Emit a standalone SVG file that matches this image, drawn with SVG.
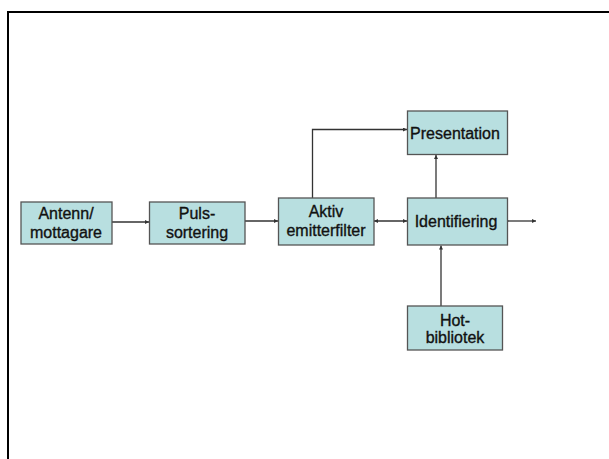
<svg xmlns="http://www.w3.org/2000/svg" width="609" height="459" viewBox="0 0 609 459">
<style>
.box{fill:#b8dfe0;stroke:#555;stroke-width:1.3}
.lbl{font-family:"Liberation Sans",Arial,sans-serif;font-size:16px;fill:#111;stroke:#111;stroke-width:0.35;text-anchor:middle}
.con{fill:none;stroke:#333;stroke-width:1.3}
</style>
<defs>
<marker id="ah" viewBox="0 0 6 6" refX="6" refY="3" markerWidth="4" markerHeight="4" orient="auto-start-reverse" markerUnits="userSpaceOnUse"><path d="M0,0 L6,3 L0,6 z" fill="#333"/></marker>
</defs>
<rect x="0" y="0" width="609" height="459" fill="#fff"/>
<path d="M8,459 V12 H609" fill="none" stroke="#000" stroke-width="2"/>
<g id="connectors">
<line class="con" x1="112" y1="222" x2="149" y2="222" marker-end="url(#ah)"/>
<line class="con" x1="245" y1="221" x2="278" y2="221" marker-end="url(#ah)"/>
<line class="con" x1="374" y1="221" x2="407" y2="221" marker-start="url(#ah)" marker-end="url(#ah)"/>
<polyline class="con" points="312.5,198 312.5,129.5 407,129.5" marker-end="url(#ah)"/>
<line class="con" x1="436" y1="198" x2="436" y2="155" marker-end="url(#ah)"/>
<line class="con" x1="508" y1="221" x2="536" y2="221" marker-end="url(#ah)"/>
<line class="con" x1="441" y1="306" x2="441" y2="245.5" marker-end="url(#ah)"/>
</g>
<g id="antenn">
<rect class="box" x="21" y="202" width="91" height="42"/>
<text class="lbl" x="66" y="219">Antenn/</text>
<text class="lbl" x="66" y="238">mottagare</text>
</g>
<g id="puls">
<rect class="box" x="149.5" y="202" width="95.5" height="42"/>
<text class="lbl" x="197" y="219">Puls-</text>
<text class="lbl" x="197" y="238">sortering</text>
</g>
<g id="aktiv">
<rect class="box" x="278.5" y="198" width="95.5" height="47"/>
<text class="lbl" x="326" y="216.5">Aktiv</text>
<text class="lbl" x="326" y="235.5">emitterfilter</text>
</g>
<g id="identifiering">
<rect class="box" x="407.5" y="198" width="100" height="47"/>
<text class="lbl" x="456" y="227">Identifiering</text>
</g>
<g id="presentation">
<rect class="box" x="407.5" y="111" width="100" height="43.5"/>
<text class="lbl" x="455" y="138.5">Presentation</text>
</g>
<g id="hotbibliotek">
<rect class="box" x="407.5" y="306" width="95" height="44"/>
<text class="lbl" x="455" y="325.5">Hot-</text>
<text class="lbl" x="455" y="343">bibliotek</text>
</g>
</svg>
